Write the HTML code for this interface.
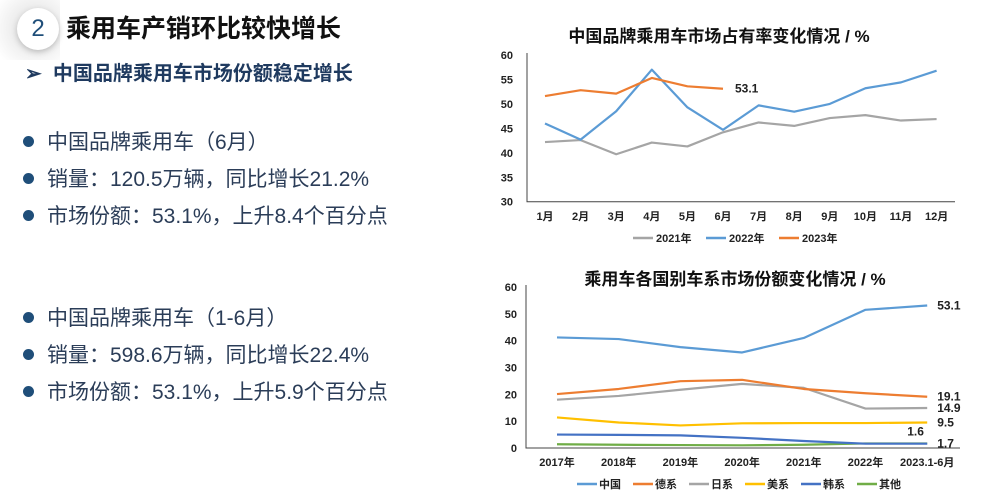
<!DOCTYPE html>
<html><head><meta charset="utf-8">
<style>
body{margin:0;width:1000px;height:497px;background:#fff;overflow:hidden;position:relative;font-family:"Liberation Sans","Noto Sans CJK SC",sans-serif}
.abs{position:absolute;white-space:nowrap}
.bl{font-size:21px;color:#2b3d58;left:23px}
.bl span.dot{display:inline-block;width:11px;height:11px;border-radius:50%;background:#1f4e79;margin-right:13px;vertical-align:middle;position:relative;top:-2px}
svg text{font-family:"Liberation Sans","Noto Sans CJK SC",sans-serif}
</style></head><body>
<div class="abs" style="left:0;top:0;width:60px;height:60px;background:radial-gradient(circle at 35px 28px,#ddd 0,#fff 45px)"></div>
<div class="abs" style="left:17px;top:8px;width:42px;height:42px;border-radius:50%;background:#fff;box-shadow:0 2px 6px #bbb;text-align:center;line-height:42px;font-size:24px;color:#1f4e79">2</div>
<div class="abs" style="left:66px;top:9px;font-size:25px;font-weight:bold;color:#111">乘用车产销环比较快增长</div>
<div class="abs" style="left:25px;top:57px;font-size:20px;font-weight:bold;color:#1f3a5f">➢&nbsp; 中国品牌乘用车市场份额稳定增长</div>
<div class="abs bl" style="top:126px"><span class="dot"></span>中国品牌乘用车（6月）</div>
<div class="abs bl" style="top:163px"><span class="dot"></span>销量：120.5万辆，同比增长21.2%</div>
<div class="abs bl" style="top:200px"><span class="dot"></span>市场份额：53.1%，上升8.4个百分点</div>
<div class="abs bl" style="top:302px"><span class="dot"></span>中国品牌乘用车（1-6月）</div>
<div class="abs bl" style="top:339px"><span class="dot"></span>销量：598.6万辆，同比增长22.4%</div>
<div class="abs bl" style="top:376px"><span class="dot"></span>市场份额：53.1%，上升5.9个百分点</div>

<svg id="c1" class="abs" style="left:0;top:0" width="1000" height="497"></svg>
<script>
const months=["1月","2月","3月","4月","5月","6月","7月","8月","9月","10月","11月","12月"];
const y2021=[42.2,42.6,39.7,42.1,41.3,44.2,46.2,45.5,47.1,47.7,46.6,46.9];
const y2022=[46,42.7,48.5,57,49.3,44.7,49.7,48.4,50,53.2,54.4,56.8];
const y2023=[51.6,52.8,52.1,55.3,53.6,53.1];
const ticks1=[30,35,40,45,50,55,60];
const years=["2017年","2018年","2019年","2020年","2021年","2022年","2023.1-6月"];
const sCN=[41.2,40.6,37.6,35.6,41,51.5,53.1];
const sDE=[20.1,22,24.9,25.4,22,20.4,19.1];
const sJP=[18,19.4,21.7,23.9,22.4,14.7,14.9];
const sUS=[11.4,9.5,8.4,9.2,9.3,9.3,9.5];
const sKR=[5,4.9,4.7,3.8,2.6,1.6,1.6];
const sOT=[1.4,1.2,1.1,1.0,1.2,1.7,1.7];
const ticks2=[0,10,20,30,40,50,60];
const NS="http://www.w3.org/2000/svg";
const svg=document.getElementById('c1');
function mk(t,a,txt){const e=document.createElementNS(NS,t);for(const k in a)e.setAttribute(k,a[k]);if(txt!==undefined)e.textContent=txt;svg.appendChild(e);return e;}
// chart 1
const x1=i=>545+i*35.6, y1=v=>201.7-(v-30)*(146.7/30);
let t=mk('text',{x:719,y:42,'font-size':17,'font-weight':'bold','text-anchor':'middle',fill:'#111'},'中国品牌乘用车市场占有率变化情况 / %');

ticks1.forEach(v=>{const e=mk('text',{x:513,y:y1(v)+4,'font-size':11,'font-weight':'bold','text-anchor':'end',fill:'#222'},v);
});
let ax=mk('path',{d:`M527 ${y1(60)-2} V${y1(30)} H955`,stroke:'#444','stroke-width':1,fill:'none'});

months.forEach((m,i)=>{const e=mk('text',{x:x1(i),y:220,'font-size':11,'font-weight':'bold','text-anchor':'middle',fill:'#222'},m);
});
function line(arr,xf,yf,c,name){const e=mk('polyline',{points:arr.map((v,i)=>xf(i)+','+yf(v)).join(' '),fill:'none',stroke:c,'stroke-width':2.2,'stroke-linejoin':'round'});
}
line(y2021,x1,y1,'#a5a5a5','line-2021');
line(y2022,x1,y1,'#5b9bd5','line-2022');
line(y2023,x1,y1,'#ed7d31','line-2023');
t=mk('text',{x:x1(5)+12,y:y1(y2023[5])+4,'font-size':12,'font-weight':'bold',fill:'#222'},y2023[5]);

[['2021年','#a5a5a5',633],['2022年','#5b9bd5',706],['2023年','#ed7d31',779]].forEach(([n,c,x])=>{
const g=mk('line',{x1:x,y1:238,x2:x+20,y2:238,stroke:c,'stroke-width':2.5});
const e=mk('text',{x:x+23,y:242,'font-size':11,'font-weight':'bold',fill:'#222'},n);});
// chart 2
const x2=i=>557+i*61.7, y2=v=>448-v*(161/60);
t=mk('text',{x:735,y:285,'font-size':17,'font-weight':'bold','text-anchor':'middle',fill:'#111'},'乘用车各国别车系市场份额变化情况 / %');

ticks2.forEach(v=>{const e=mk('text',{x:517,y:y2(v)+4,'font-size':11,'font-weight':'bold','text-anchor':'end',fill:'#222'},v);
});
ax=mk('path',{d:`M526 ${y2(60)-2} V${y2(0)} H960`,stroke:'#444','stroke-width':1,fill:'none'});

years.forEach((m,i)=>{const e=mk('text',{x:x2(i),y:466,'font-size':11,'font-weight':'bold','text-anchor':'middle',fill:'#222'},m);
});
line(sOT,x2,y2,'#70ad47','line-other');
line(sKR,x2,y2,'#4472c4','line-korea');
line(sUS,x2,y2,'#ffc000','line-usa');
line(sJP,x2,y2,'#a5a5a5','line-japan');
line(sDE,x2,y2,'#ed7d31','line-germany');
line(sCN,x2,y2,'#5b9bd5','line-china');
[[sCN,0],[sDE,0],[sJP,0],[sUS,0],[sOT,0]].forEach(([s,d])=>{const e=mk('text',{x:x2(6)+10,y:y2(s[6])+4+d,'font-size':12,'font-weight':'bold',fill:'#222'},s[6]);
});
t=mk('text',{x:x2(6)-20,y:y2(sKR[6])-8,'font-size':12,'font-weight':'bold',fill:'#222'},sKR[6]);

[['中国','#5b9bd5',577],['德系','#ed7d31',633],['日系','#a5a5a5',689],['美系','#ffc000',745],['韩系','#4472c4',801],['其他','#70ad47',857]].forEach(([n,c,x])=>{
const g=mk('line',{x1:x,y1:484,x2:x+20,y2:484,stroke:c,'stroke-width':2.5});
const e=mk('text',{x:x+22,y:488,'font-size':11,'font-weight':'bold',fill:'#222'},n);});
</script>
</body></html>
